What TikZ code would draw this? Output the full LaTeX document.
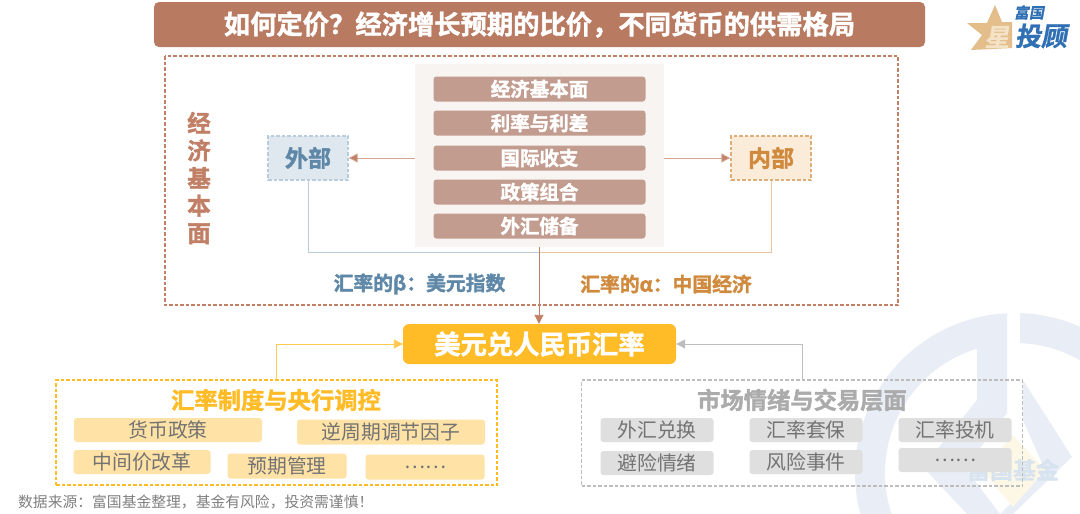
\documentclass[tikz,border=0pt]{standalone}
\usepackage{fontspec}
\setmainfont{Noto Sans CJK SC}
\newfontfamily\cjkb[FakeBold=1.6]{Noto Sans CJK SC Bold}
\newfontfamily\cjkl[FakeSlant=0.18,FakeBold=1]{Noto Sans CJK SC Bold}
\usetikzlibrary{arrows.meta}
\definecolor{brownA}{HTML}{B97A62}
\definecolor{brownB}{HTML}{C29C8F}
\definecolor{brownC}{HTML}{C17F66}
\definecolor{creamP}{HTML}{F8F4F1}
\definecolor{blueT}{HTML}{5F88A8}
\definecolor{blueF}{HTML}{E0E8EF}
\definecolor{blueL}{HTML}{B9CCDD}
\definecolor{orgT}{HTML}{D08A3E}
\definecolor{orgF}{HTML}{FBEBD9}
\definecolor{gold}{HTML}{FFBC27}
\definecolor{goldF}{HTML}{FFE2A6}
\definecolor{greyT}{HTML}{ABABAB}
\definecolor{greyF}{HTML}{DFDFDF}
\definecolor{greyL}{HTML}{BDBDBD}
\definecolor{wmb}{HTML}{E9EEF6}
\definecolor{wmt}{HTML}{D8E3F0}
\definecolor{wmy}{HTML}{FDF7E6}
\definecolor{logoB}{HTML}{2F6FB3}
\definecolor{logoS}{HTML}{E3BE8A}
\definecolor{logoT}{HTML}{F4E2C6}
\tikzset{
  x=1pt,y=-1pt,
  lab/.style={inner sep=0,align=center,font=\fontsize{#1}{#1}\selectfont\cjkb},
  bar/.style={fill=brownB,rounded corners=3pt,inner sep=0,text=white,minimum width=212pt,minimum height=25pt,font=\fontsize{19.5}{19.5}\selectfont\cjkb},
  gbox/.style={fill=goldF,rounded corners=3pt,inner sep=0,text=black!55,font=\fontsize{19.8}{19.8}\selectfont},
  hbox/.style={fill=greyF,rounded corners=3pt,inner sep=0,text=black!55,minimum width=113pt,minimum height=24pt,font=\fontsize{19.8}{19.8}\selectfont},
  dsh/.style={dash pattern=on 3.5pt off 2pt,line width=1.3pt},
  arr/.style={-{Triangle[length=9pt,width=9pt]},line width=.9pt}
}
\begin{document}
\begin{tikzpicture}
\useasboundingbox (0,0) rectangle (1080,514);
\fill[white] (0,0) rectangle (1080,514);
% watermark
\begin{scope}
\clip (0,0) rectangle (1007,514) (1020,0) rectangle (1080,514);
\draw[wmb,line width=30pt] (1015,473) circle[radius=145pt];
\end{scope}
\fill[wmb] (977,346) -- (1007,341) -- (1007,413) -- (965,468) -- (1000,514) -- (967,514) -- (923,467) -- (977,400) -- cycle;
\fill[wmb] (1023,380) -- (1072,457) -- (1013,514) -- (1000,514) -- (1045,470) -- (1023,420) -- cycle;
\fill[wmy] (1013,435) -- (1045,470) -- (1013,507) -- (982,470) -- cycle;
\node[text=wmt,inner sep=0,font=\fontsize{23}{23}\selectfont\cjkb] (wm) at (1013,470) {富国基金};
% title
\node[fill=brownA,rounded corners=5pt,minimum width=771pt,minimum height=45pt,inner sep=0,text=white,font=\fontsize{26.3}{26.3}\selectfont\cjkb] (title) at (539.5,24.5) {如何定价？经济增长预期的比价，不同货币的供需格局};
% logo
\fill[logoS] (995,5) -- (1002,22) -- (1012,22) -- (1012,48) -- (971,50) -- (982,35) -- (967,23) -- (987,23) -- cycle;
\node[text=logoT,inner sep=0,font=\fontsize{25}{25}\selectfont\cjkl] (logo3) at (997,37) {星};
\node[text=logoB,inner sep=0,font=\fontsize{15}{15}\selectfont\cjkl] (logo1) at (1029,12.5) {富国};
\node[text=logoB,inner sep=0,font=\fontsize{26}{26}\selectfont\cjkl] (logo2) at (1041,36) {投顾};
% main dashed frame
\draw[brownC,dsh] (165,56) rectangle (898,305);
% panel
\node[fill=creamP,inner sep=0,minimum width=249pt,minimum height=183pt] (panel) at (539.5,155.5) {};
\node[bar] (b1) at (539.5,89) {经济基本面};
\node[bar] (b2) at (539.5,123) {利率与利差};
\node[bar] (b3) at (539.5,158) {国际收支};
\node[bar] (b4) at (539.5,192) {政策组合};
\node[bar] (b5) at (539.5,226) {外汇储备};
% side
\node[text=brownC,inner sep=0,font=\fontsize{23.5}{23.5}\selectfont\cjkb] (side) at (199,178) {\baselineskip=27.5pt\vbox{\hbox{经}\hbox{济}\hbox{基}\hbox{本}\hbox{面}}};
\node[draw=blueL,dsh,fill=blueF,minimum width=80pt,minimum height=44pt,inner sep=0,text=blueT,font=\fontsize{23}{23}\selectfont\cjkb] (wai) at (308,158) {外部};
\node[draw=orgT!70,dsh,fill=orgF,minimum width=80pt,minimum height=44pt,inner sep=0,text=orgT,font=\fontsize{23}{23}\selectfont\cjkb] (nei) at (771,158) {内部};
\draw[arr,brownC!70,-{Triangle[length=9pt,width=9pt,fill=brownC]}] (panel.west |- wai) -- (wai.east);
\draw[arr,brownC!70,-{Triangle[length=9pt,width=9pt,fill=brownC]}] (panel.east |- nei) -- (nei.west);
% target
\node[fill=gold,rounded corners=6pt,minimum width=273pt,minimum height=40pt,inner sep=0,text=white,font=\fontsize{26.3}{26.3}\selectfont\cjkb] (usd) at (539.5,344) {美元兑人民币汇率};
\coordinate (jl) at (539,252);
\draw[blueL,line width=.9pt] (wai.south) |- (jl);
\draw[orgT!50,line width=.9pt] (nei.south) |- (jl);
\draw[arr,brownC] (panel.south -| jl) -- (usd.north -| jl);
\node[lab=19.8,text=blueT] (beta) at (419.5,284) {汇率的β：美元指数};
\node[lab=19.8,text=orgT] (alpha) at (666,284) {汇率的α：中国经济};
% gold frame
\node[draw=gold,dsh,minimum width=441pt,minimum height=105pt,inner sep=0] (gf) at (276.5,432.5) {};
\node[lab=23.3,text=gold] (gt) at (276,400) {汇率制度与央行调控};
\node[gbox,minimum width=188pt,minimum height=24pt] (g1) at (168,430) {货币政策};
\node[gbox,minimum width=188pt,minimum height=25pt] (g2) at (391,432) {逆周期调节因子};
\node[gbox,minimum width=137pt,minimum height=24pt] (g3) at (142,462) {中间价改革};
\node[gbox,minimum width=119pt,minimum height=25pt] (g4) at (287,466) {预期管理};
\node[gbox,minimum width=119pt,minimum height=25pt] (g5) at (425,467) {……};
\draw[arr,gold!80] (gf.north -| 276,0) |- (usd.west);
% grey frame
\node[draw=greyL,dsh,minimum width=441pt,minimum height=106pt,inner sep=0] (hf) at (802,433) {};
\node[lab=23.3,text=greyT] (ht) at (802,400) {市场情绪与交易层面};
\node[hbox] (h1) at (657,430) {外汇兑换};
\node[hbox] (h2) at (806,430) {汇率套保};
\node[hbox] (h3) at (955,430) {汇率投机};
\node[hbox] (h4) at (657,463) {避险情绪};
\node[hbox] (h5) at (806,462) {风险事件};
\node[hbox] (h6) at (955,460) {……};
\draw[arr,greyL] (hf.north -| 802,0) |- (usd.east);
% source
\node[inner sep=0,anchor=west,text=black!50,font=\fontsize{14.8}{14.8}\selectfont] (src) at (18,502) {数据来源：富国基金整理，基金有风险，投资需谨慎！};
\end{tikzpicture}
\end{document}
